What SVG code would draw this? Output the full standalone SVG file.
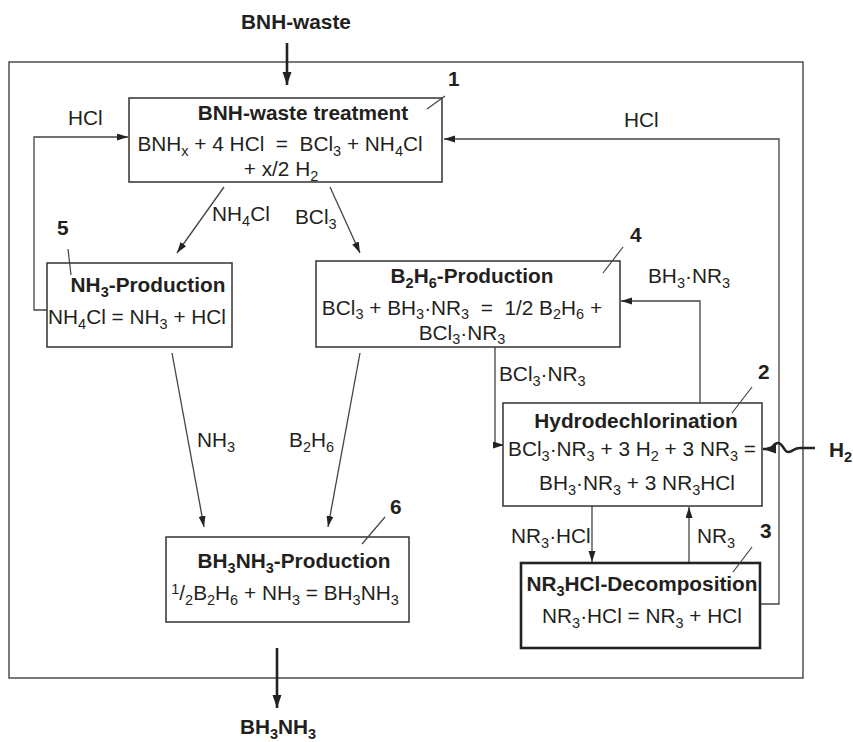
<svg xmlns="http://www.w3.org/2000/svg" width="853" height="742" viewBox="0 0 853 742">
  <style>
    text { font-family: "Liberation Sans", Arial, sans-serif; font-size: 20.8px; fill: #231f20; }
    .b { font-weight: bold; }
    .m { text-anchor: middle; }
    .s { font-size: 14.5px; }
    .box { fill: #fff; stroke: #333; stroke-width: 1.5; }
    .box3 { fill: #fff; stroke: #222; stroke-width: 2.6; }
    .ln { fill: none; stroke: #444; stroke-width: 1.3; }
    .thick { fill: none; stroke: #222; stroke-width: 2.6; }
    .lead { fill: none; stroke: #444; stroke-width: 1.2; }
  </style>
  <defs>
    <marker id="ah" markerUnits="userSpaceOnUse" markerWidth="12" markerHeight="8" refX="11" refY="3.5" orient="auto">
      <path d="M0,0 L11,3.5 L0,7 Z" fill="#222"/>
    </marker>
    <marker id="ahb" markerUnits="userSpaceOnUse" markerWidth="14" markerHeight="10" refX="13" refY="4.5" orient="auto">
      <path d="M0,0 L13,4.5 L0,9 Z" fill="#222"/>
    </marker>
  </defs>

  <rect width="853" height="742" fill="#fff"/>

  <!-- plant boundary -->
  <rect id="boundary" x="9" y="62" width="794" height="616" fill="none" stroke="#333" stroke-width="1.3"/>

  <!-- streams -->
  <g id="connectors">
    <line class="thick" x1="287" y1="43" x2="287" y2="85" marker-end="url(#ahb)"/>
    <line class="thick" x1="277" y1="648" x2="277" y2="708" marker-end="url(#ahb)"/>
    <polyline class="ln" points="47,310 34,310 34,137 128,137" marker-end="url(#ah)"/>
    <polyline class="ln" points="760,604 779,604 779,139 444,139" marker-end="url(#ah)"/>
    <line class="ln" x1="224" y1="187" x2="177" y2="253" marker-end="url(#ah)"/>
    <line class="ln" x1="330" y1="187" x2="360" y2="253" marker-end="url(#ah)"/>
    <polyline class="ln" points="700,403 700,301 621,301" marker-end="url(#ah)"/>
    <polyline class="ln" points="495,347 495,445 504,445" marker-end="url(#ah)"/>
    <line class="ln" x1="592" y1="506" x2="592" y2="562" marker-end="url(#ah)"/>
    <line class="ln" x1="689" y1="563" x2="689" y2="507" marker-end="url(#ah)"/>
    <line class="ln" x1="172" y1="353" x2="204" y2="527" marker-end="url(#ah)"/>
    <line class="ln" x1="360" y1="353" x2="328" y2="527" marker-end="url(#ah)"/>
    <path class="thick" d="M815,448 L800,448 C794,448 792,452 788,452 C784,452 783,443 778,443 C773,443 773,449 769,449 L763,449" marker-end="url(#ahb)"/>

    <text x="68" y="125">HCl</text>
    <text x="624" y="127">HCl</text>
    <text x="212" y="221">NH<tspan class="s" dy="5">4</tspan><tspan dy="-5">Cl</tspan></text>
    <text x="295" y="224">BCl<tspan class="s" dy="5">3</tspan></text>
    <text x="648" y="283">BH<tspan class="s" dy="5">3</tspan><tspan dy="-5">·NR</tspan><tspan class="s" dy="5">3</tspan></text>
    <text x="499" y="381">BCl<tspan class="s" dy="5">3</tspan><tspan dy="-5">·NR</tspan><tspan class="s" dy="5">3</tspan></text>
    <text x="511" y="543">NR<tspan class="s" dy="5">3</tspan><tspan dy="-5">·HCl</tspan></text>
    <text x="697" y="543">NR<tspan class="s" dy="5">3</tspan></text>
    <text x="197" y="447">NH<tspan class="s" dy="5">3</tspan></text>
    <text x="289" y="447">B<tspan class="s" dy="5">2</tspan><tspan dy="-5">H</tspan><tspan class="s" dy="5">6</tspan></text>
    <text x="829" y="457" class="b">H<tspan class="s" dy="5">2</tspan></text>
    <text x="296" y="29" class="b m">BNH-waste</text>
    <text x="278" y="734" class="b m">BH<tspan class="s" dy="5">3</tspan><tspan dy="-5">NH</tspan><tspan class="s" dy="5">3</tspan></text>
  </g>

  <!-- 1: waste treatment -->
  <g id="node1">
    <rect class="box" x="129" y="98" width="313" height="84"/>
    <text x="303" y="120" class="b m">BNH-waste treatment</text>
    <text x="280" y="151" class="m">BNH<tspan class="s" dy="5">x</tspan><tspan dy="-5"> + 4 HCl &#160;= &#160;BCl</tspan><tspan class="s" dy="5">3</tspan><tspan dy="-5"> + NH</tspan><tspan class="s" dy="5">4</tspan><tspan dy="-5">Cl</tspan></text>
    <text x="281" y="176" class="m">+ x/2 H<tspan class="s" dy="5">2</tspan></text>
    <line class="lead" x1="427" y1="109" x2="445" y2="96"/>
    <text x="448" y="86" class="b">1</text>
  </g>

  <!-- 5: ammonia production -->
  <g id="node5">
    <rect class="box" x="47" y="263" width="185" height="84"/>
    <text x="148" y="292" class="b m">NH<tspan class="s" dy="5">3</tspan><tspan dy="-5">-Production</tspan></text>
    <text x="137" y="324" class="m">NH<tspan class="s" dy="5">4</tspan><tspan dy="-5">Cl = NH</tspan><tspan class="s" dy="5">3</tspan><tspan dy="-5"> + HCl</tspan></text>
    <line class="lead" x1="68" y1="249" x2="71" y2="275"/>
    <text x="57" y="235" class="b">5</text>
  </g>

  <!-- 4: diborane production -->
  <g id="node4">
    <rect class="box" x="316" y="261" width="304" height="86"/>
    <text x="472" y="283" class="b m">B<tspan class="s" dy="5">2</tspan><tspan dy="-5">H</tspan><tspan class="s" dy="5">6</tspan><tspan dy="-5">-Production</tspan></text>
    <text x="462" y="315" class="m">BCl<tspan class="s" dy="4">3</tspan><tspan dy="-4"> + BH</tspan><tspan class="s" dy="4">3</tspan><tspan dy="-4">·NR</tspan><tspan class="s" dy="4">3</tspan><tspan dy="-4"> &#160;= &#160;1/2 B</tspan><tspan class="s" dy="4">2</tspan><tspan dy="-4">H</tspan><tspan class="s" dy="4">6</tspan><tspan dy="-4"> +</tspan></text>
    <text x="462" y="340" class="m">BCl<tspan class="s" dy="4">3</tspan><tspan dy="-4">·NR</tspan><tspan class="s" dy="4">3</tspan></text>
    <line class="lead" x1="603" y1="273" x2="623" y2="247"/>
    <text x="630" y="242" class="b">4</text>
  </g>

  <!-- 2: hydrodechlorination -->
  <g id="node2">
    <rect class="box" x="503" y="403" width="259" height="103"/>
    <text x="636" y="428" class="b m">Hydrodechlorination</text>
    <text x="632" y="456" class="m">BCl<tspan class="s" dy="5">3</tspan><tspan dy="-5">·NR</tspan><tspan class="s" dy="5">3</tspan><tspan dy="-5"> + 3 H</tspan><tspan class="s" dy="5">2</tspan><tspan dy="-5"> + 3 NR</tspan><tspan class="s" dy="5">3</tspan><tspan dy="-5"> =</tspan></text>
    <text x="637" y="490" class="m">BH<tspan class="s" dy="5">3</tspan><tspan dy="-5">·NR</tspan><tspan class="s" dy="5">3</tspan><tspan dy="-5"> + 3 NR</tspan><tspan class="s" dy="5">3</tspan><tspan dy="-5">HCl</tspan></text>
    <line class="lead" x1="732" y1="413" x2="752" y2="387"/>
    <text x="758" y="379" class="b">2</text>
  </g>

  <!-- 3: amine hydrochloride decomposition -->
  <g id="node3">
    <rect class="box3" x="521" y="563" width="239" height="85"/>
    <text x="642" y="591" class="b m">NR<tspan class="s" dy="5">3</tspan><tspan dy="-5">HCl-Decomposition</tspan></text>
    <text x="642" y="623" class="m">NR<tspan class="s" dy="5">3</tspan><tspan dy="-5">·HCl = NR</tspan><tspan class="s" dy="5">3</tspan><tspan dy="-5"> + HCl</tspan></text>
    <line class="lead" x1="733" y1="572" x2="752" y2="547"/>
    <text x="760" y="538" class="b">3</text>
  </g>

  <!-- 6: ammonia borane production -->
  <g id="node6">
    <rect class="box" x="166" y="537" width="243" height="85"/>
    <text x="294" y="568" class="b m">BH<tspan class="s" dy="5">3</tspan><tspan dy="-5">NH</tspan><tspan class="s" dy="5">3</tspan><tspan dy="-5">-Production</tspan></text>
    <text x="285" y="600" class="m"><tspan class="s" dy="-6">1</tspan><tspan dy="6">/</tspan><tspan class="s" dy="5">2</tspan><tspan dy="-5">B</tspan><tspan class="s" dy="5">2</tspan><tspan dy="-5">H</tspan><tspan class="s" dy="5">6</tspan><tspan dy="-5"> + NH</tspan><tspan class="s" dy="5">3</tspan><tspan dy="-5"> = BH</tspan><tspan class="s" dy="5">3</tspan><tspan dy="-5">NH</tspan><tspan class="s" dy="5">3</tspan></text>
    <line class="lead" x1="362" y1="544" x2="385" y2="517"/>
    <text x="390" y="514" class="b">6</text>
  </g>
</svg>
